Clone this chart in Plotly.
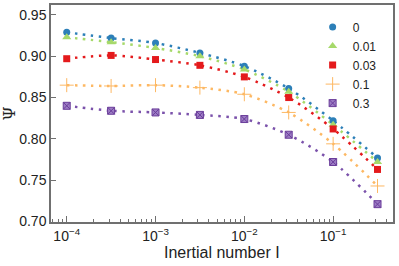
import plotly.graph_objects as go

inertial = [1e-4, 3.16e-4, 1e-3, 3.16e-3, 1e-2, 3.16e-2, 1e-1, 3.16e-1]
labels = ["0", "0.01", "0.03", "0.1", "0.3"]
psi_0 = [0.929, 0.922, 0.916, 0.904, 0.888, 0.861, 0.822, 0.777]
psi_001 = [0.923, 0.917, 0.910, 0.900, 0.884, 0.857, 0.817, 0.772]
psi_003 = [0.897, 0.901, 0.896, 0.889, 0.875, 0.850, 0.812, 0.763]
psi_01 = [0.865, 0.864, 0.865, 0.862, 0.854, 0.832, 0.794, 0.743]
psi_03 = [0.840, 0.834, 0.832, 0.829, 0.824, 0.805, 0.772, 0.721]

series = [psi_0, psi_001, psi_003, psi_01, psi_03]
colors = ["#2c7fb8", "#a6d96a", "#e41a1c", "#fdb863", "#7b52ab"]
symbols = ["circle", "triangle-up", "square", "cross-thin", "square-x"]
sizes = [7, 8, 7, 10, 7]

FONT = "Liberation Sans, Arial, sans-serif"

fig = go.Figure()
for ys, c in zip(series, colors):
    fig.add_trace(go.Scatter(x=inertial, y=ys, mode="lines", showlegend=False,
                             line=dict(color=c, width=2.5, dash="2.5px,5.5px", shape="spline", smoothing=0.8),
                             hoverinfo="skip"))
for ys, c, s, sz, lab in zip(series, colors, symbols, sizes, labels):
    if s == "cross-thin":
        marker = dict(symbol=s, size=sz, color=c, line=dict(color=c, width=1))
    elif s == "square-x":
        marker = dict(symbol=s, size=sz, color="#9c7cc4", line=dict(color="#6a3d9a", width=1))
    else:
        marker = dict(symbol=s, size=sz, color=c, line=dict(width=0))
    fig.add_trace(go.Scatter(x=inertial, y=ys, mode="markers", name=lab, marker=marker))

axis_common = dict(showgrid=False, zeroline=False, showline=True, linecolor="#707070", linewidth=1.5,
                   mirror=True, ticks="inside", tickcolor="#707070", automargin=False,
                   tickfont=dict(family=FONT, size=14, color="#222"))

fig.update_xaxes(type="log", range=[-4.177, -0.326], tickvals=[1e-4, 1e-3, 1e-2, 1e-1],
                 ticktext=["10<sup>−4</sup>", "10<sup>−3</sup>", "10<sup>−2</sup>", "10<sup>−1</sup>"],
                 ticklen=6, tickwidth=1,
                 minor=dict(ticks="inside", ticklen=3, tickcolor="#707070", tickwidth=1,
                            tickvals=[m * 10 ** e for e in range(-5, 0) for m in range(2, 10)]),
                 **axis_common)
fig.update_yaxes(range=[0.6994, 0.962], tickvals=[0.70, 0.75, 0.80, 0.85, 0.90, 0.95],
                 tickformat=".2f", ticklen=5, tickwidth=1,
                 title=dict(text="Ψ", font=dict(family="DejaVu Serif, serif", size=16, color="#222"), standoff=4),
                 **axis_common)

fig.add_annotation(text="Inertial number I", xref="paper", yref="paper", x=0.5, y=0,
                   xanchor="center", yanchor="top", yshift=-20, showarrow=False,
                   font=dict(family=FONT, size=16, color="#222"))

fig.update_layout(width=399, height=266, margin=dict(l=51, r=6, t=5, b=44),
                  plot_bgcolor="white", paper_bgcolor="white",
                  legend=dict(x=0.765, y=0.965, xanchor="left", yanchor="top", bgcolor="rgba(0,0,0,0)",
                              font=dict(family=FONT, size=12, color="#222"),
                              tracegroupgap=0, itemwidth=30))
fig.write_html("out.html", config={"displayModeBar": False},
               post_script="document.body.style.margin='0';")
